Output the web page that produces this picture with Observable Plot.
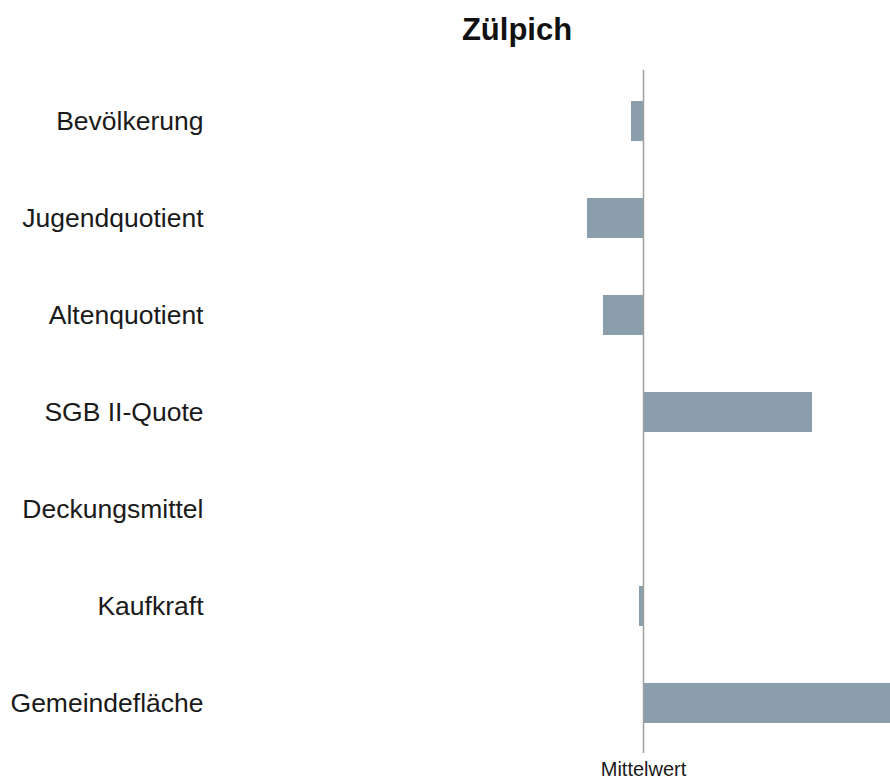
<!DOCTYPE html>
<html>
<head>
<meta charset="utf-8">
<script src="https://cdn.jsdelivr.net/npm/d3@7"></script>
<script src="https://cdn.jsdelivr.net/npm/@observablehq/plot@0.6"></script>
<style>
  html, body { margin: 0; padding: 0; background: #fff; overflow: hidden; }
  #title { width: 890px; height: 53px; box-sizing: border-box; padding-left: 144px; text-align: center;
    font-family: "Liberation Sans", Arial, sans-serif; font-weight: bold; font-size: 31px; line-height: 60px; color: #111; overflow: visible; }
</style>
</head>
<body>
<div id="title">Zülpich</div>
<div id="chart"></div>
<script>
const categories = ["Bevölkerung", "Jugendquotient", "Altenquotient", "SGB II-Quote", "Deckungsmittel", "Kaufkraft", "Gemeindefläche"];
const values = [-0.12, -0.56, -0.40, 1.69, 0, -0.04, 2.47];
const tickLabel = "Mittelwert";

const data = categories.map((c, i) => ({name: c, value: values[i]}));

const chart = Plot.plot({
  width: 890,
  height: 727,
  marginLeft: 205,
  marginRight: 0,
  marginTop: 17,
  marginBottom: 27,
  style: {fontFamily: "'Liberation Sans', Arial, sans-serif", background: "#fff", overflow: "visible"},
  x: {domain: [-4.38, 2.47]},
  y: {domain: categories, paddingInner: 0.59, paddingOuter: 0.29},
  marks: [
    Plot.barX(data, {x: "value", y: "name", fill: "#8a9fab"}),
    Plot.ruleX([0], {stroke: "#a0a0a0", strokeWidth: 1.5}),
    Plot.axisY({tickSize: 0, tickPadding: 2, fontSize: 26.5, label: null, color: "#1a1a1a"}),
    Plot.axisX({ticks: [0], tickFormat: () => tickLabel, tickSize: 0, tickPadding: 8, fontSize: 20, label: null, color: "#1a1a1a"})
  ]
});
document.getElementById("chart").appendChild(chart);
</script>
</body>
</html>
